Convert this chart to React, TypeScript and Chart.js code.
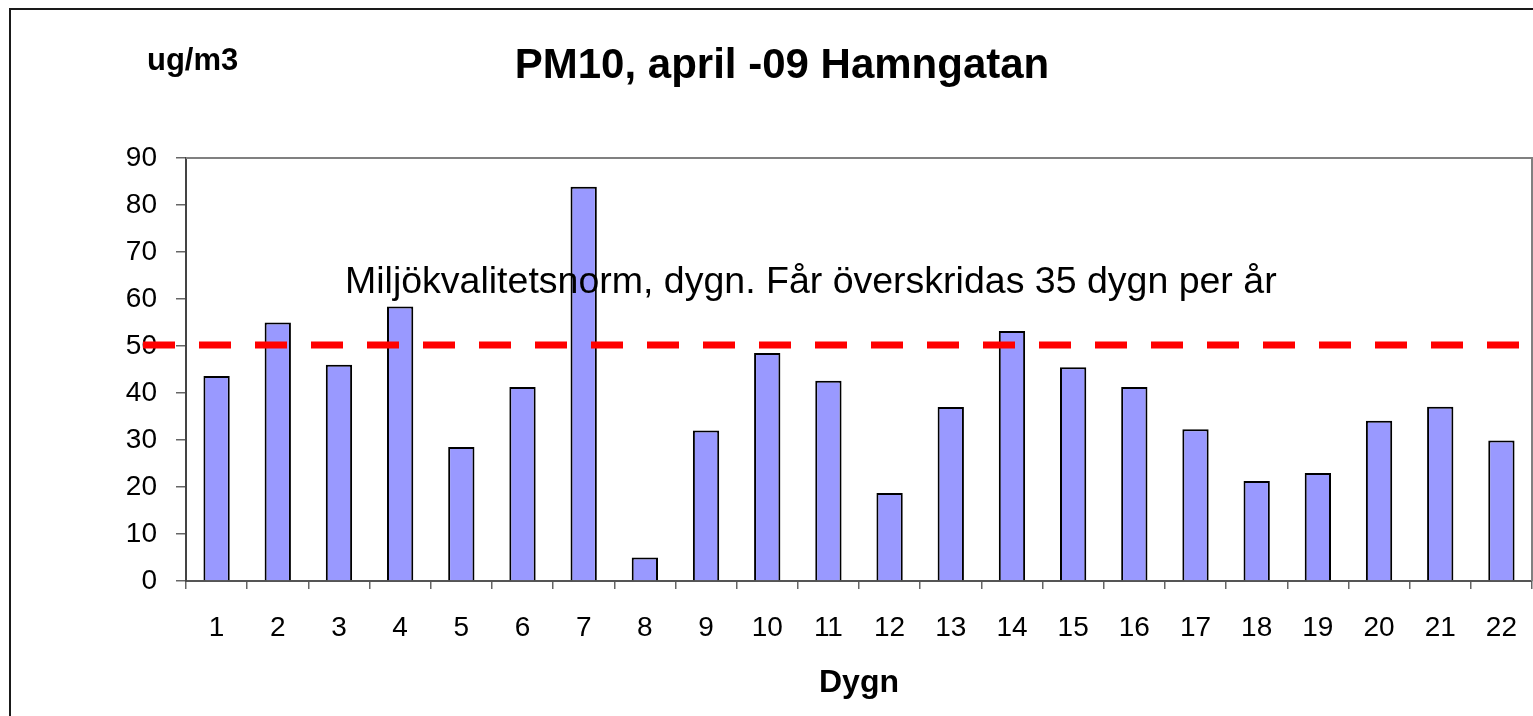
import React, { useEffect, useRef } from "react";
import { Chart, registerables } from "chart.js";

Chart.register(...registerables);

const categories = ["1","2","3","4","5","6","7","8","9","10","11","12","13","14","15","16","17","18","19","20","21","22"];
const pm10Values = [43.6, 55.0, 46.0, 58.4, 28.5, 41.3, 83.9, 5.0, 32.0, 48.5, 42.6, 18.7, 37.0, 53.2, 45.5, 41.3, 32.3, 21.3, 23.0, 34.1, 37.1, 29.9];
const normValue = 50.2;
const yTicks = [0, 10, 20, 30, 40, 50, 60, 70, 80, 90];
const titleText = "PM10, april -09 Hamngatan";
const yUnitText = "ug/m3";
const xTitleText = "Dygn";
const normText = "Miljökvalitetsnorm, dygn. Får överskridas 35 dygn per år";
const normTextValue = 61.3;

const FONT = "'Liberation Sans', Arial, sans-serif";

const decorPlugin = {
  id: "decor",
  beforeDraw(chart: any) {
    const ctx = chart.ctx;
    ctx.save();
    ctx.fillStyle = "#ffffff";
    ctx.fillRect(0, 0, chart.width, chart.height);
    ctx.restore();
  },
  afterDatasetsDraw(chart: any) {
    const ctx = chart.ctx;
    const { left, right, top } = chart.chartArea;
    const y = chart.scales.y;
    ctx.save();
    // plot area top/right border
    ctx.strokeStyle = "#808080";
    ctx.lineWidth = 2;
    ctx.beginPath();
    ctx.moveTo(left, top);
    ctx.lineTo(right, top);
    ctx.lineTo(right, chart.chartArea.bottom);
    ctx.stroke();
    // norm dashed line
    const ly = y.getPixelForValue(normValue);
    ctx.strokeStyle = "#ff0000";
    ctx.lineWidth = 7;
    ctx.setLineDash([32, 24]);
    ctx.beginPath();
    ctx.moveTo(left - 43, ly);
    ctx.lineTo(chart.width, ly);
    ctx.stroke();
    ctx.setLineDash([]);
    // annotation
    ctx.fillStyle = "#000000";
    ctx.font = `37.5px ${FONT}`;
    ctx.textAlign = "left";
    ctx.textBaseline = "alphabetic";
    ctx.fillText(normText, left + 159, y.getPixelForValue(normTextValue));
    ctx.restore();
  },
  afterDraw(chart: any) {
    const ctx = chart.ctx;
    ctx.save();
    ctx.fillStyle = "#000000";
    ctx.textBaseline = "alphabetic";
    ctx.textAlign = "center";
    ctx.font = `bold 42px ${FONT}`;
    ctx.fillText(titleText, 782, 78);
    ctx.textAlign = "left";
    ctx.font = `bold 31px ${FONT}`;
    ctx.fillText(yUnitText, 147, 70);
    ctx.textAlign = "center";
    ctx.font = `bold 32px ${FONT}`;
    const { left, right } = chart.chartArea;
    ctx.fillText(xTitleText, (left + right) / 2, 692);
    // outer border
    ctx.strokeStyle = "#1a1a1a";
    ctx.lineWidth = 2;
    ctx.beginPath();
    ctx.moveTo(10, chart.height + 5);
    ctx.lineTo(10, 9);
    ctx.lineTo(chart.width + 5, 9);
    ctx.stroke();
    ctx.restore();
  },
};

export default function App() {
  const ref = useRef<HTMLCanvasElement | null>(null);
  useEffect(() => {
    if (!ref.current) return;
    const chart = new Chart(ref.current, {
      type: "bar",
      data: {
        labels: categories,
        datasets: [
          {
            data: pm10Values,
            backgroundColor: "#9999ff",
            borderColor: "#000000",
            borderWidth: 2,
            barPercentage: 0.43,
            categoryPercentage: 1,
          },
        ],
      },
      options: {
        responsive: false,
        animation: false,
        devicePixelRatio: 1,
        layout: { padding: { left: 0, top: 158, right: 1, bottom: 0 } },
        plugins: { legend: { display: false }, tooltip: { enabled: false }, title: { display: false } },
        scales: {
          x: {
            type: "category",
            offset: true,
            grid: {
              offset: true,
              drawOnChartArea: false,
              drawTicks: true,
              tickLength: 8,
              color: "#666666",
              tickColor: "#666666",
              lineWidth: 1.5,
            },
            border: { display: true, color: "#555555", width: 2 },
            ticks: {
              color: "#000000",
              font: { family: FONT, size: 28 },
              padding: 22,
              maxRotation: 0,
              autoSkip: false,
            },
            afterFit: (s: any) => {
              s.height = 135;
              s.paddingLeft = 0;
              s.paddingRight = 0;
            },
          },
          y: {
            min: 0,
            max: 90,
            afterBuildTicks: (s: any) => {
              s.ticks = yTicks.map((v) => ({ value: v }));
            },
            grid: {
              drawOnChartArea: false,
              drawTicks: true,
              tickLength: 10,
              color: "#666666",
              tickColor: "#666666",
              lineWidth: 1.5,
            },
            border: { display: true, color: "#444444", width: 2 },
            ticks: {
              color: "#000000",
              font: { family: FONT, size: 28 },
              padding: 19,
            },
            afterFit: (s: any) => {
              s.width = 186;
            },
          },
        },
      },
      plugins: [decorPlugin],
    });
    return () => chart.destroy();
  }, []);
  return (
    <div style={{ position: "fixed", left: 0, top: 0, width: 1533, height: 716, background: "#fff" }}>
      <canvas ref={ref} width={1533} height={716} style={{ display: "block", width: 1533, height: 716 }} />
    </div>
  );
}
